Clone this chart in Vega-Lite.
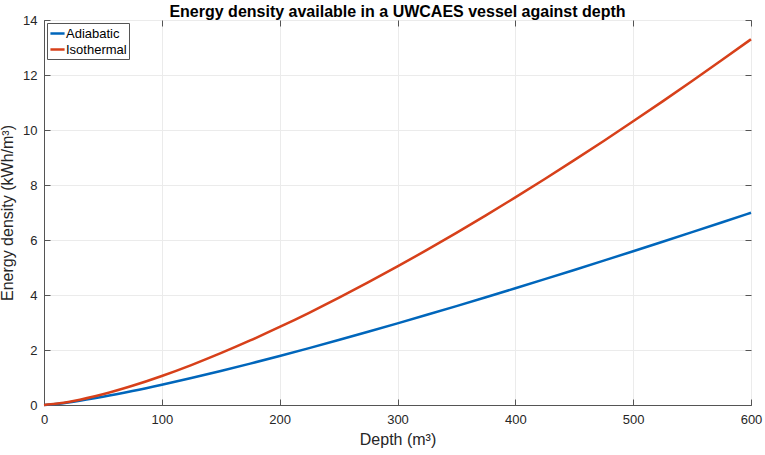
{
  "$schema": "https://vega.github.io/schema/vega-lite/v6.json",
  "width": 707,
  "height": 385,
  "autosize": {"type": "none"},
  "padding": {"left": 44, "top": 20, "right": 14, "bottom": 50},
  "background": "white",
  "config": {
    "font": "Liberation Sans",
    "view": {"stroke": "#555555", "strokeWidth": 1},
    "axis": {
      "labelFont": "Liberation Sans",
      "labelFontSize": 13,
      "labelColor": "#262626",
      "titleFont": "Liberation Sans",
      "titleFontSize": 16,
      "titleFontWeight": "normal",
      "titleColor": "#262626",
      "domainColor": "#555555",
      "tickColor": "#555555",
      "gridColor": "#ebebeb",
      "gridWidth": 1,
      "tickSize": -6
    }
  },
  "title": {
    "text": "Energy density available in a UWCAES vessel against depth",
    "fontSize": 16,
    "fontWeight": "bold",
    "color": "#000000",
    "offset": 4,
    "dy": 10
  },
  "data": {
    "values": [
      {"depth": 0, "energy": 0, "model": "Adiabatic"},
      {"depth": 10, "energy": 0.0387, "model": "Adiabatic"},
      {"depth": 25, "energy": 0.1222, "model": "Adiabatic"},
      {"depth": 50, "energy": 0.2996, "model": "Adiabatic"},
      {"depth": 75, "energy": 0.5069, "model": "Adiabatic"},
      {"depth": 100, "energy": 0.7351, "model": "Adiabatic"},
      {"depth": 125, "energy": 0.9793, "model": "Adiabatic"},
      {"depth": 150, "energy": 1.2365, "model": "Adiabatic"},
      {"depth": 175, "energy": 1.5046, "model": "Adiabatic"},
      {"depth": 200, "energy": 1.7822, "model": "Adiabatic"},
      {"depth": 225, "energy": 2.0681, "model": "Adiabatic"},
      {"depth": 250, "energy": 2.3614, "model": "Adiabatic"},
      {"depth": 275, "energy": 2.6615, "model": "Adiabatic"},
      {"depth": 300, "energy": 2.9677, "model": "Adiabatic"},
      {"depth": 325, "energy": 3.2795, "model": "Adiabatic"},
      {"depth": 350, "energy": 3.5966, "model": "Adiabatic"},
      {"depth": 375, "energy": 3.9185, "model": "Adiabatic"},
      {"depth": 400, "energy": 4.2449, "model": "Adiabatic"},
      {"depth": 425, "energy": 4.5756, "model": "Adiabatic"},
      {"depth": 450, "energy": 4.9104, "model": "Adiabatic"},
      {"depth": 475, "energy": 5.2489, "model": "Adiabatic"},
      {"depth": 500, "energy": 5.591, "model": "Adiabatic"},
      {"depth": 525, "energy": 5.9365, "model": "Adiabatic"},
      {"depth": 550, "energy": 6.2853, "model": "Adiabatic"},
      {"depth": 575, "energy": 6.6372, "model": "Adiabatic"},
      {"depth": 600, "energy": 6.9921, "model": "Adiabatic"},
      {"depth": 0, "energy": 0, "model": "Isothermal"},
      {"depth": 10, "energy": 0.0427, "model": "Isothermal"},
      {"depth": 25, "energy": 0.1468, "model": "Isothermal"},
      {"depth": 50, "energy": 0.3908, "model": "Isothermal"},
      {"depth": 75, "energy": 0.6983, "model": "Isothermal"},
      {"depth": 100, "energy": 1.0547, "model": "Isothermal"},
      {"depth": 125, "energy": 1.4517, "model": "Isothermal"},
      {"depth": 150, "energy": 1.8836, "model": "Isothermal"},
      {"depth": 175, "energy": 2.3466, "model": "Isothermal"},
      {"depth": 200, "energy": 2.8375, "model": "Isothermal"},
      {"depth": 225, "energy": 3.3538, "model": "Isothermal"},
      {"depth": 250, "energy": 3.8936, "model": "Isothermal"},
      {"depth": 275, "energy": 4.4553, "model": "Isothermal"},
      {"depth": 300, "energy": 5.0376, "model": "Isothermal"},
      {"depth": 325, "energy": 5.6391, "model": "Isothermal"},
      {"depth": 350, "energy": 6.2588, "model": "Isothermal"},
      {"depth": 375, "energy": 6.8959, "model": "Isothermal"},
      {"depth": 400, "energy": 7.5493, "model": "Isothermal"},
      {"depth": 425, "energy": 8.2189, "model": "Isothermal"},
      {"depth": 450, "energy": 8.9034, "model": "Isothermal"},
      {"depth": 475, "energy": 9.6024, "model": "Isothermal"},
      {"depth": 500, "energy": 10.3154, "model": "Isothermal"},
      {"depth": 525, "energy": 11.0417, "model": "Isothermal"},
      {"depth": 550, "energy": 11.7813, "model": "Isothermal"},
      {"depth": 575, "energy": 12.5338, "model": "Isothermal"},
      {"depth": 600, "energy": 13.2983, "model": "Isothermal"}
    ]
  },
  "resolve": {"axis": {"x": "independent", "y": "independent"}},
  "layer": [
    {
      "mark": {"type": "line", "strokeWidth": 2.5, "interpolate": "monotone"},
      "encoding": {
        "x": {
          "field": "depth",
          "type": "quantitative",
          "title": "Depth (m³)",
          "scale": {"domain": [0, 600], "nice": false, "zero": false},
          "axis": {"values": [0, 100, 200, 300, 400, 500, 600], "labelPadding": 14, "titlePadding": 5, "labelFlush": false}
        },
        "y": {
          "field": "energy",
          "type": "quantitative",
          "title": "Energy density (kWh/m³)",
          "scale": {"domain": [0, 14], "nice": false},
          "axis": {"values": [0, 2, 4, 6, 8, 10, 12, 14], "labelPadding": 13, "titlePadding": 7, "labelFlush": false}
        },
        "color": {
          "field": "model",
          "type": "nominal",
          "scale": {"domain": ["Adiabatic", "Isothermal"], "range": ["#0066BB", "#D7401A"]},
          "legend": {
            "title": null,
            "orient": "top-left",
            "offset": 3,
            "symbolType": "stroke",
            "symbolSize": 200,
            "symbolStrokeWidth": 2.5,
            "labelFontSize": 13,
            "labelColor": "#000000",
            "labelOffset": 0,
            "rowPadding": 0,
            "padding": 2,
            "fillColor": "white",
            "strokeColor": "#555555"
          }
        }
      }
    },
    {
      "mark": {"type": "line", "opacity": 0},
      "encoding": {
        "x": {
          "field": "depth",
          "type": "quantitative",
          "axis": {"orient": "top", "values": [0, 100, 200, 300, 400, 500, 600], "labels": false, "title": null, "grid": false, "domain": false}
        },
        "y": {
          "field": "energy",
          "type": "quantitative",
          "axis": {"orient": "right", "values": [0, 2, 4, 6, 8, 10, 12, 14], "labels": false, "title": null, "grid": false, "domain": false}
        },
        "detail": {"field": "model"}
      }
    }
  ]
}
